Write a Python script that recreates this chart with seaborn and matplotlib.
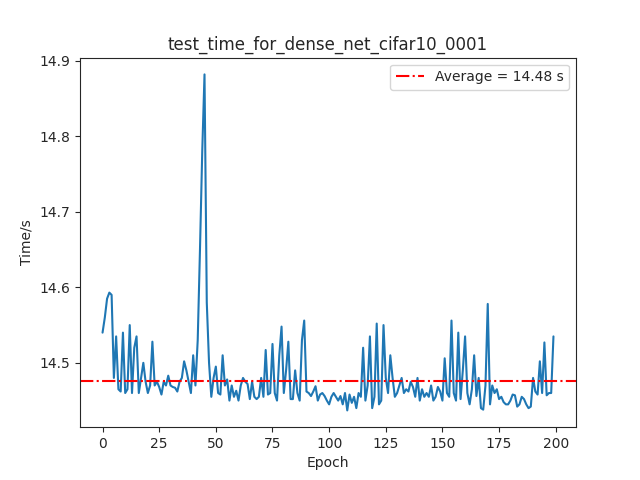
import numpy as np
import pandas as pd
import matplotlib
matplotlib.use("Agg")
import matplotlib.pyplot as plt
import seaborn as sns

sns.set_style("ticks")
plt.rcParams['font.family'] = ['DejaVu Sans']

times = [
    14.54, 14.56, 14.585, 14.593, 14.59, 14.48, 14.535, 14.465, 14.462, 14.54,
    14.46, 14.465, 14.55, 14.46, 14.52, 14.535, 14.46, 14.48, 14.50, 14.475,
    14.46, 14.47, 14.528, 14.47, 14.475, 14.468, 14.458, 14.475, 14.47, 14.483,
    14.47, 14.468, 14.467, 14.462, 14.475, 14.48, 14.502, 14.49, 14.475, 14.46,
    14.51, 14.47, 14.53, 14.65, 14.78, 14.882, 14.58, 14.5, 14.455, 14.48,
    14.495, 14.46, 14.458, 14.51, 14.47, 14.478, 14.45, 14.47, 14.455, 14.463,
    14.45, 14.47, 14.48, 14.475, 14.472, 14.452, 14.475, 14.455, 14.452, 14.455,
    14.48, 14.455, 14.517, 14.458, 14.46, 14.525, 14.46, 14.45, 14.51, 14.548,
    14.46, 14.49, 14.528, 14.452, 14.452, 14.49, 14.46, 14.45, 14.53, 14.556,
    14.462, 14.46, 14.456, 14.462, 14.469, 14.45, 14.458, 14.46, 14.456, 14.45,
    14.445, 14.455, 14.46, 14.455, 14.45, 14.456, 14.445, 14.46, 14.437, 14.458,
    14.447, 14.455, 14.44, 14.46, 14.455, 14.52, 14.45, 14.47, 14.535, 14.44,
    14.455, 14.552, 14.445, 14.45, 14.55, 14.48, 14.46, 14.51, 14.48, 14.455,
    14.46, 14.47, 14.48, 14.46, 14.465, 14.462, 14.475, 14.468, 14.455, 14.48,
    14.45, 14.465, 14.455, 14.46, 14.455, 14.47, 14.45, 14.455, 14.468, 14.462,
    14.45, 14.506, 14.46, 14.455, 14.556, 14.46, 14.45, 14.54, 14.452, 14.49,
    14.535, 14.46, 14.445, 14.465, 14.51, 14.456, 14.48, 14.44, 14.438, 14.47,
    14.578, 14.445, 14.47, 14.46, 14.465, 14.452, 14.455, 14.448, 14.445, 14.445,
    14.45, 14.458, 14.457, 14.442, 14.445, 14.455, 14.452, 14.445, 14.44, 14.442,
    14.48, 14.462, 14.458, 14.502, 14.46, 14.527, 14.457, 14.46, 14.46, 14.535,
]
epochs = list(range(len(times)))
average = 14.476

df = pd.DataFrame({"Epoch": epochs, "Time": times})

fig, ax = plt.subplots(figsize=(6.4, 4.8), dpi=100)
sns.lineplot(data=df, x="Epoch", y="Time", ax=ax, color="#1f77b4", linewidth=1.5)
ax.axhline(average, color="red", linestyle="-.", linewidth=1.5,
           label="Average = %.2f s" % average)
ax.set_xticks([0, 25, 50, 75, 100, 125, 150, 175, 200])
ax.set_xlabel("Epoch")
ax.set_ylabel("Time/s")
ax.set_title("test_time_for_dense_net_cifar10_0001")
ax.legend(loc="upper right")
plt.savefig("out.png", dpi=100)
